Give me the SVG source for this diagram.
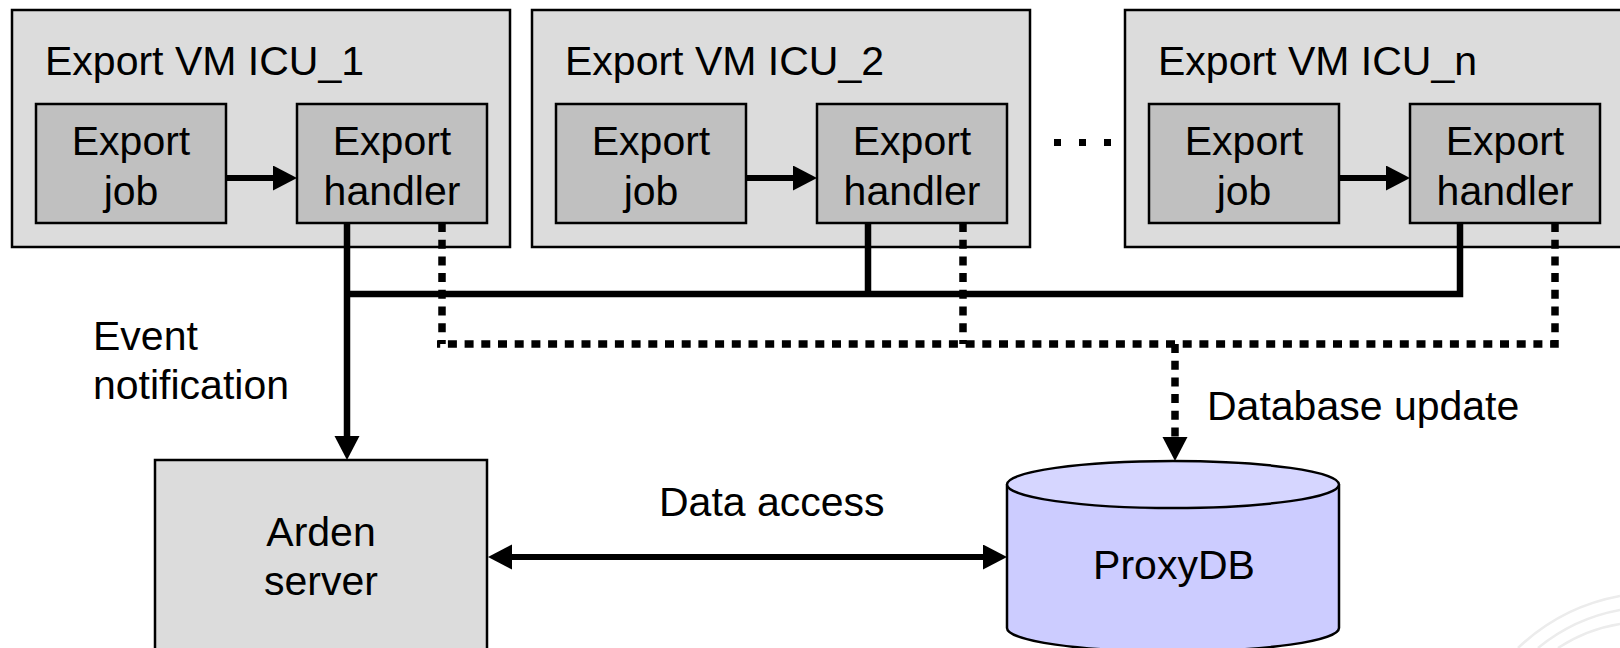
<svg xmlns="http://www.w3.org/2000/svg" width="1620" height="648" viewBox="0 0 1620 648">
  <style>
    text { font-family: "Liberation Sans", Arial, sans-serif; font-size: 41px; fill: #000; }
    .mid { text-anchor: middle; }
    .vm { fill: #dcdcdc; stroke: #000; stroke-width: 2.5; }
    .comp { fill: #c0c0c0; stroke: #000; stroke-width: 2.5; }
    .server { fill: #dcdcdc; stroke: #000; stroke-width: 2.5; }
    .db-body { fill: #ccccff; stroke: #000; stroke-width: 2.5; }
    .db-top { fill: #d6d6ff; stroke: #000; stroke-width: 2.5; }
    .solid { fill: none; stroke: #000; stroke-width: 6.5; }
    .thin { stroke-width: 6; }
    .dotted { fill: none; stroke: #000; stroke-width: 7.5; stroke-dasharray: 9 7.7; }
    .arrow { marker-end: url(#head); }
    .both { marker-start: url(#head); marker-end: url(#head); }
    .dot { fill: #000; }
    .deco { fill: none; stroke: #ececec; stroke-width: 2.5; }
  </style>
  <defs>
    <marker id="head" markerUnits="userSpaceOnUse" markerWidth="26" markerHeight="26" refX="12" refY="12.5" orient="auto-start-reverse">
      <path d="M0,0 L24,12.5 L0,25 z" fill="#000"/>
    </marker>
  </defs>

  <rect width="1620" height="648" fill="#fff"/>

  <!-- faint decorative arcs, lower right -->
  <g id="decoration">
    <path class="deco" d="M1518,648 A200,200 0 0 1 1620,596"/>
    <path class="deco" d="M1538,648 A180,180 0 0 1 1620,610"/>
    <path class="deco" d="M1558,648 A160,160 0 0 1 1620,624"/>
  </g>

  <!-- export VMs -->
  <g id="vm-icu-1" transform="translate(12,0)">
    <rect class="vm" x="0" y="10" width="498" height="237"/>
    <text x="33" y="75">Export VM ICU_1</text>
    <g id="job-1">
      <rect class="comp" x="24" y="104" width="190" height="119"/>
      <text class="mid" x="119" y="155">Export</text>
      <text class="mid" x="119" y="205">job</text>
    </g>
    <g id="handler-1">
      <rect class="comp" x="285" y="104" width="190" height="119"/>
      <text class="mid" x="380" y="155">Export</text>
      <text class="mid" x="380" y="205">handler</text>
    </g>
  </g>

  <g id="vm-icu-2" transform="translate(532,0)">
    <rect class="vm" x="0" y="10" width="498" height="237"/>
    <text x="33" y="75">Export VM ICU_2</text>
    <g id="job-2">
      <rect class="comp" x="24" y="104" width="190" height="119"/>
      <text class="mid" x="119" y="155">Export</text>
      <text class="mid" x="119" y="205">job</text>
    </g>
    <g id="handler-2">
      <rect class="comp" x="285" y="104" width="190" height="119"/>
      <text class="mid" x="380" y="155">Export</text>
      <text class="mid" x="380" y="205">handler</text>
    </g>
  </g>

  <g id="ellipsis">
    <rect class="dot" x="1054" y="139" width="7" height="7"/>
    <rect class="dot" x="1079" y="139" width="7" height="7"/>
    <rect class="dot" x="1104" y="139" width="7" height="7"/>
  </g>

  <g id="vm-icu-n" transform="translate(1125,0)">
    <rect class="vm" x="0" y="10" width="498" height="237"/>
    <text x="33" y="75">Export VM ICU_n</text>
    <g id="job-n">
      <rect class="comp" x="24" y="104" width="190" height="119"/>
      <text class="mid" x="119" y="155">Export</text>
      <text class="mid" x="119" y="205">job</text>
    </g>
    <g id="handler-n">
      <rect class="comp" x="285" y="104" width="190" height="119"/>
      <text class="mid" x="380" y="155">Export</text>
      <text class="mid" x="380" y="205">handler</text>
    </g>
  </g>

  <!-- Arden server -->
  <g id="arden-server">
    <rect class="server" x="155" y="460" width="332" height="200"/>
    <text class="mid" x="321" y="546">Arden</text>
    <text class="mid" x="321" y="595">server</text>
  </g>

  <!-- ProxyDB cylinder -->
  <g id="proxydb">
    <path class="db-body" d="M1007,484.5 L1007,628 A166,23.5 0 0 0 1339,628 L1339,484.5"/>
    <ellipse class="db-top" cx="1173" cy="484.5" rx="166" ry="23.5"/>
    <text class="mid" x="1174" y="579">ProxyDB</text>
  </g>

  <!-- connectors -->
  <g id="connectors">
    <!-- job to handler inside each VM -->
    <line class="solid thin arrow" x1="226" y1="178" x2="285" y2="178"/>
    <line class="solid thin arrow" x1="746" y1="178" x2="805" y2="178"/>
    <line class="solid thin arrow" x1="1339" y1="178" x2="1398" y2="178"/>

    <!-- event notification bus -->
    <path class="solid" d="M868,223 V294 M1460,223 V294 H347"/>
    <line class="solid arrow" x1="347" y1="223" x2="347" y2="448"/>

    <!-- database update bus -->
    <path class="dotted" d="M442,223 V344 M963,223 V344 M1555,223 V344 H437"/>
    <line class="dotted arrow" x1="1175" y1="344" x2="1175" y2="449"/>

    <!-- data access -->
    <line class="solid thin both" x1="500" y1="557" x2="995" y2="557"/>

    <text x="93" y="350">Event</text>
    <text x="93" y="399">notification</text>
    <text x="1207" y="420">Database update</text>
    <text x="659" y="516">Data access</text>
  </g>
</svg>
